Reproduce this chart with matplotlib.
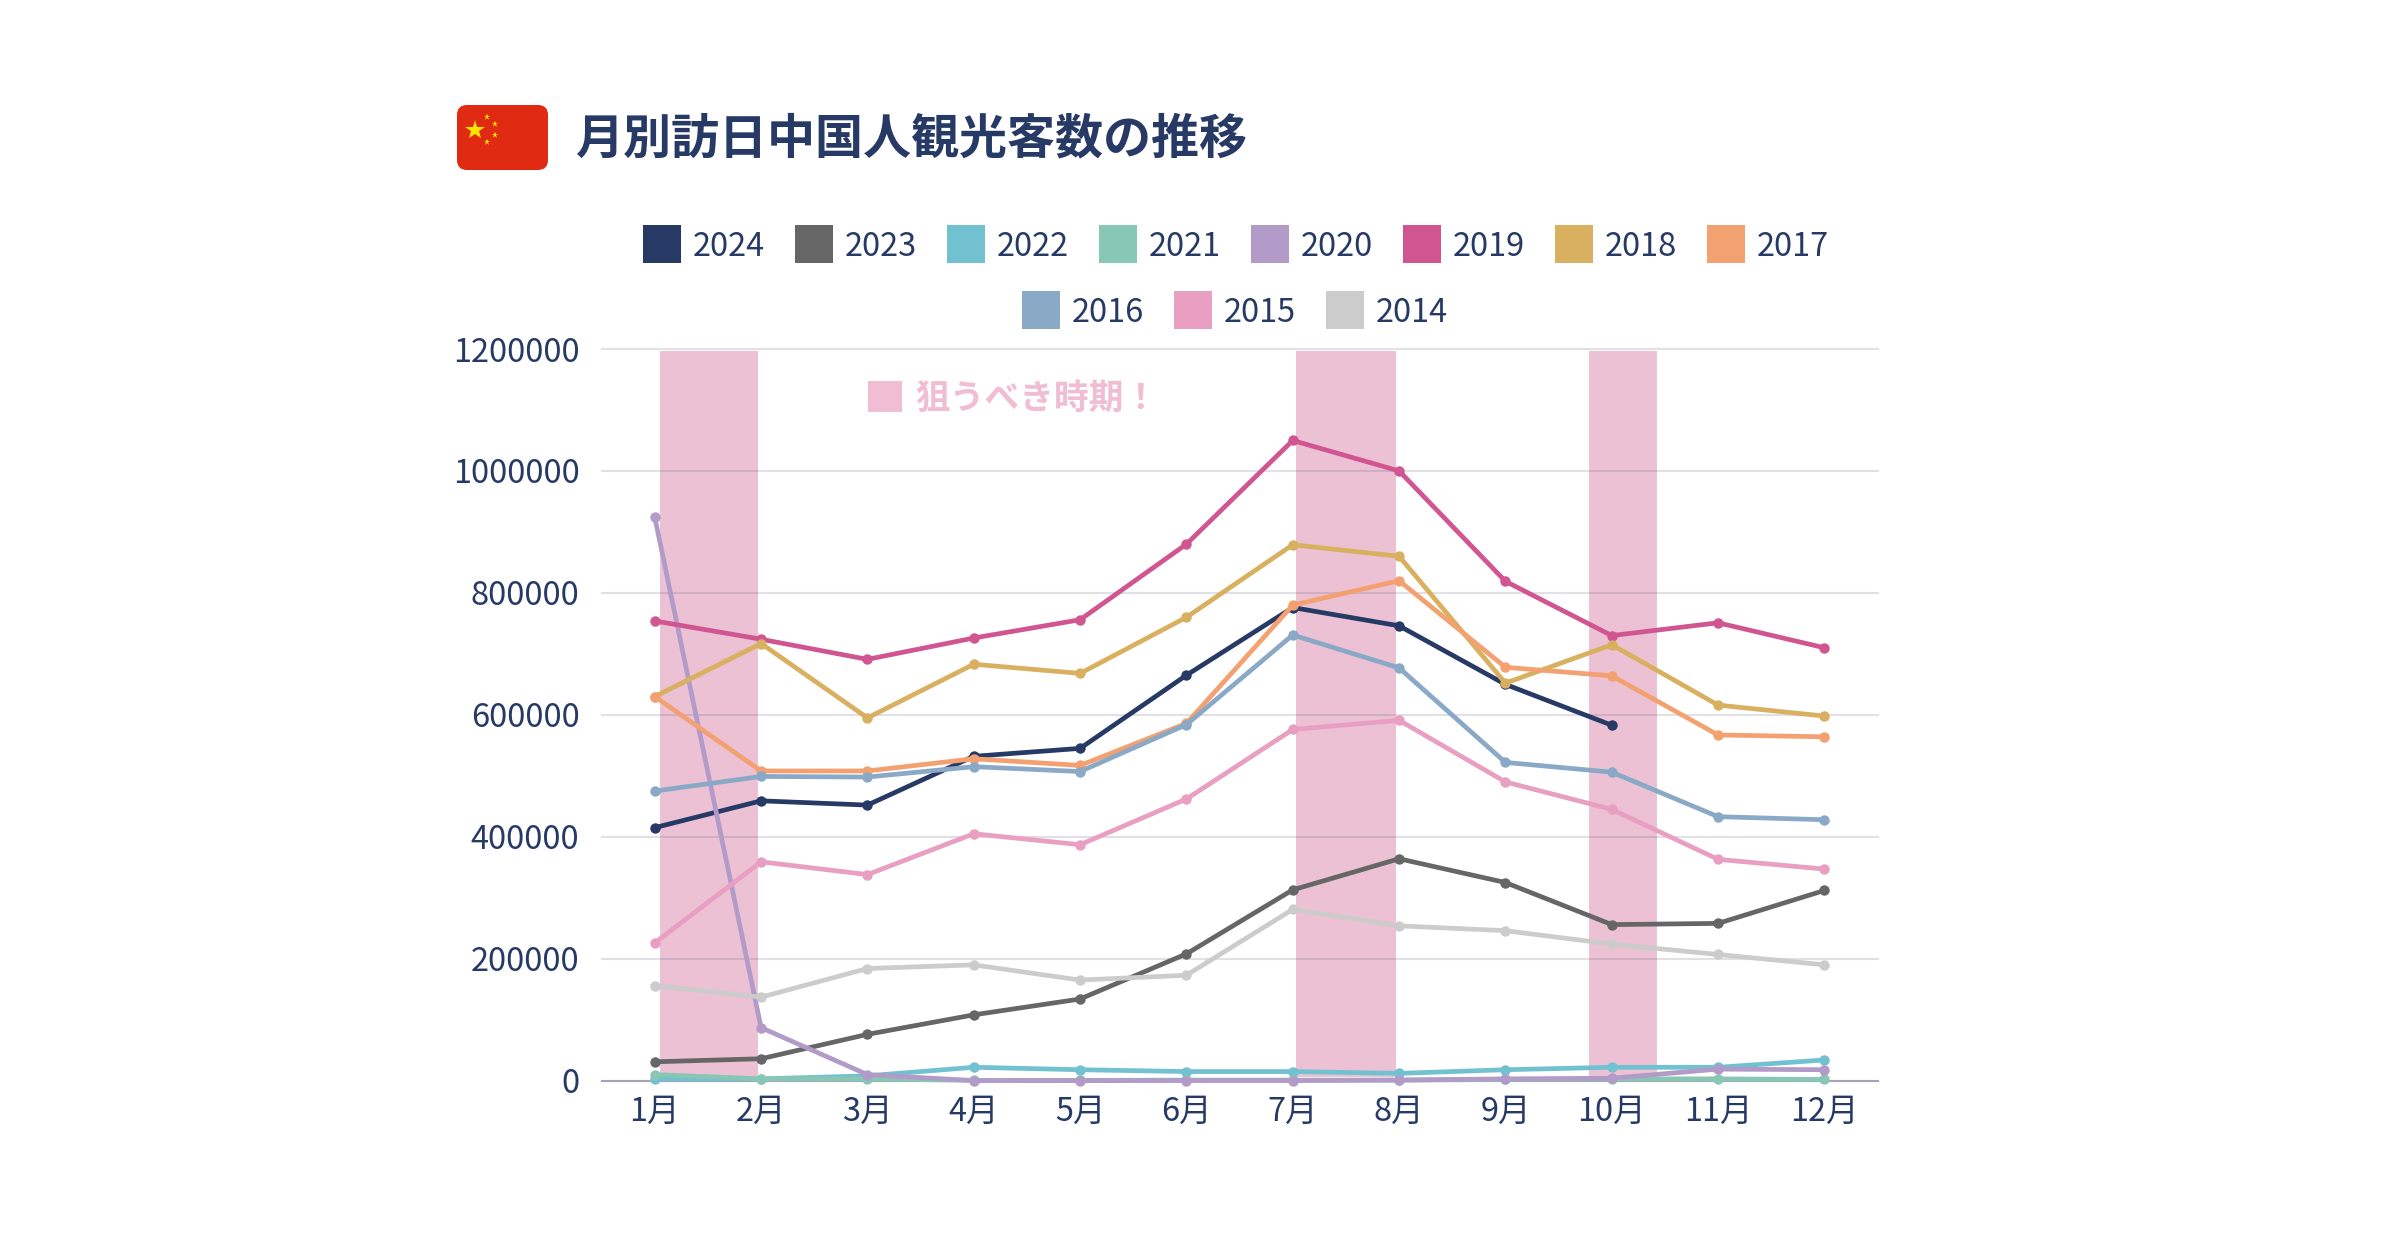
import matplotlib
matplotlib.use('Agg')
import matplotlib.pyplot as plt
from matplotlib.patches import FancyBboxPatch, Rectangle

plt.rcParams['font.family'] = ['Noto Sans CJK JP', 'DejaVu Sans']

months = ['1月', '2月', '3月', '4月', '5月', '6月', '7月', '8月', '9月', '10月', '11月', '12月']
yticks = [0, 200000, 400000, 600000, 800000, 1000000, 1200000]

y2024 = [415000, 459000, 452000, 532000, 545000, 665000, 776000, 746000, 650000, 583000]
y2023 = [31000, 36000, 76000, 108000, 134000, 208000, 313000, 364000, 325000, 256000, 258000, 312000]
y2022 = [3000, 3000, 8000, 22000, 18000, 15000, 15000, 12000, 18000, 22000, 22000, 34000]
y2021 = [10000, 3000, 3000, 500, 500, 1000, 1000, 1000, 2000, 3000, 3000, 2000]
y2020 = [924000, 87000, 10000, 200, 100, 200, 200, 1000, 3000, 4000, 19000, 18000]
y2019 = [754000, 724000, 691000, 726000, 756000, 880000, 1050000, 1000000, 819000, 730000, 751000, 710000]
y2018 = [630000, 717000, 595000, 683000, 668000, 760000, 879000, 860000, 652000, 715000, 616000, 598000]
y2017 = [630000, 508000, 508000, 528000, 517000, 586000, 780000, 820000, 678000, 664000, 567000, 564000]
y2016 = [475000, 499000, 498000, 515000, 507000, 584000, 731000, 677000, 522000, 506000, 433000, 428000]
y2015 = [226000, 359000, 338000, 405000, 387000, 462000, 576000, 591000, 490000, 445000, 363000, 347000]
y2014 = [156000, 137000, 184000, 190000, 165000, 173000, 281000, 254000, 246000, 224000, 207000, 190000]

years = ['2024', '2023', '2022', '2021', '2020', '2019', '2018', '2017', '2016', '2015', '2014']
values = [y2024, y2023, y2022, y2021, y2020, y2019, y2018, y2017, y2016, y2015, y2014]
colors = ['#273a66', '#666666', '#72c1d1', '#88c7b3', '#b29bc8', '#d05591',
          '#d8b05f', '#f4a172', '#8aa9c7', '#e99fc1', '#cccccc']

# target periods, in month positions
bands = [(0.045, 0.975), (6.035, 6.975), (8.785, 9.425)]

navy = '#273a66'
W, H = 2400, 1260

fig = plt.figure(figsize=(24, 12.6), dpi=100)
ax = fig.add_axes([601.6 / W, (H - 1080.7) / H, 1276 / W, 731.7 / H])

for x0, x1 in bands:
    ax.axvspan(x0, x1, ymin=0.0055, ymax=0.997, color='#ecc1d4', lw=0, zorder=1)

for i in range(len(years)):
    ax.plot(range(len(values[i])), values[i], color=colors[i], lw=3.4, marker='o', ms=7.5,
            mew=0, clip_on=False, zorder=3 + i * 0.1)

ax.set_xlim(-0.5, 11.5)
ax.set_ylim(0, 1200000)
ax.set_xticks(range(12))
ax.set_xticklabels(months)
ax.set_yticks(yticks)
ax.set_yticklabels([str(v) for v in yticks])
ax.tick_params(axis='both', length=0, labelsize=23.4, labelcolor=navy)
ax.tick_params(axis='y', pad=16)
ax.tick_params(axis='x', pad=11)
ax.grid(axis='y', color='#6b6580', alpha=0.2, lw=1.5, zorder=2)
for gl in ax.get_ygridlines():
    gl.set_clip_on(False)
ax.set_axisbelow(False)
for s in ['top', 'right', 'left']:
    ax.spines[s].set_visible(False)
ax.spines['bottom'].set_color('#b5b3c4')
ax.spines['bottom'].set_linewidth(1.5)
ax.spines['bottom'].set_zorder(2.5)

# overlay in pixels for title, flag and legend
deco = fig.add_axes([0, 0, 1, 1], zorder=5)
deco.set_xlim(0, W)
deco.set_ylim(H, 0)
deco.axis('off')

deco.add_patch(FancyBboxPatch((465, 113), 75, 49, boxstyle='round,pad=8,rounding_size=10',
                              fc='#e02a12', ec='none'))
deco.plot([475], [130], marker='*', ms=15, color='#fde500', mew=0, ls='none')
deco.plot([487, 495, 495, 487], [117, 124, 135, 142], marker='*', ms=5, color='#fde500',
          mew=0, ls='none')
deco.text(575, 139, '月別訪日中国人観光客数の推移', fontsize=34.6, fontweight='bold', color=navy,
          va='center', ha='left')

row1_x, row1_y = 643, 225
row2_x, row2_y = 1022.4, 291
pitch = 152
for i in range(len(years)):
    if i < 8:
        x = row1_x + i * pitch
        y = row1_y
    else:
        x = row2_x + (i - 8) * pitch
        y = row2_y
    deco.add_patch(Rectangle((x, y), 38, 38, fc=colors[i], ec='none'))
    deco.text(x + 49.5, y + 22, years[i], fontsize=23.4, color=navy, va='center', ha='left')

deco.add_patch(Rectangle((868, 381), 34, 31, fc='#f0bdd3', ec='none'))
deco.text(915, 398, '狙うべき時期！', fontsize=25, fontweight='bold', color='#f0bdd3',
          va='center', ha='left')

fig.savefig('out.png', dpi=100, facecolor='white')
